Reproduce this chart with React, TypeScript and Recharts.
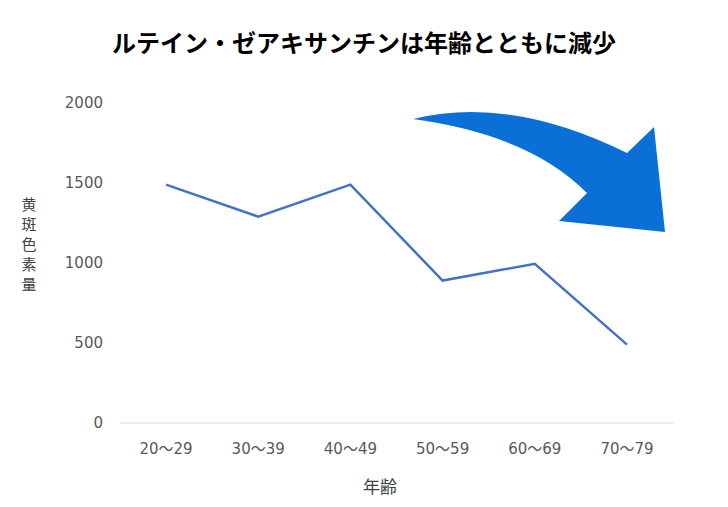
import { LineChart, Line, XAxis, YAxis, Customized } from 'recharts'

document.body.style.margin = '0'

const title = 'ルテイン・ゼアキサンチンは年齢とともに減少'
const yTitle = '黄斑色素量'
const xTitle = '年齢'

const ageGroups = ['20～29', '30～39', '40～49', '50～59', '60～69', '70～79']
const pigment = [1490, 1290, 1490, 890, 995, 490]
const yTicks = [0, 500, 1000, 1500, 2000]

const data = ageGroups.map((age, i) => ({ age, pigment: pigment[i] }))

const font = '"DejaVu Sans", "Noto Sans CJK JP", sans-serif'

// decorative arrow + titles, drawn on top of the plot
function Decorations() {
  return (
    <g>
      <text
        x={364}
        y={52}
        textAnchor="middle"
        fontSize={24}
        fontWeight="bold"
        fill="#000"
        fontFamily='"Noto Sans CJK JP", sans-serif'
      >
        {title}
      </text>
      {yTitle.split('').map((ch, i) => (
        <text
          key={i}
          x={29}
          y={210 + i * 20}
          textAnchor="middle"
          fontSize={15}
          fill="#404040"
          fontFamily='"Noto Sans CJK JP", sans-serif'
        >
          {ch}
        </text>
      ))}
      <text
        x={380}
        y={493}
        textAnchor="middle"
        fontSize={17}
        fill="#404040"
        fontFamily='"Noto Sans CJK JP", sans-serif'
      >
        {xTitle}
      </text>
      <path
        d="M413,119 Q510,95 627,153 L654,127 L665,232 L559,221 L587,193 Q530,135 413,119 Z"
        fill="#0A70D6"
      />
    </g>
  )
}

export default function App() {
  return (
    <div style={{ width: 728, height: 507, background: '#fff' }}>
      <LineChart
        width={728}
        height={507}
        data={data}
        margin={{ top: 103, right: 55, bottom: 54, left: 60 }}
      >
        <XAxis
          dataKey="age"
          height={30}
          padding={{ left: 46, right: 46 }}
          tickLine={false}
          axisLine={{ stroke: '#d9d9d9' }}
          tickSize={0}
          tickMargin={20}
          tick={{ fontSize: 15, fill: '#595959', fontFamily: font }}
        />
        <YAxis
          width={60}
          domain={[0, 2000]}
          ticks={yTicks}
          axisLine={false}
          tickLine={false}
          tickSize={0}
          tickMargin={17}
          tick={{ fontSize: 15, fill: '#595959', fontFamily: font }}
        />
        <Line
          type="linear"
          dataKey="pigment"
          stroke="#4472C4"
          strokeWidth={2.5}
          dot={false}
          isAnimationActive={false}
        />
        <Customized component={Decorations} />
      </LineChart>
    </div>
  )
}
